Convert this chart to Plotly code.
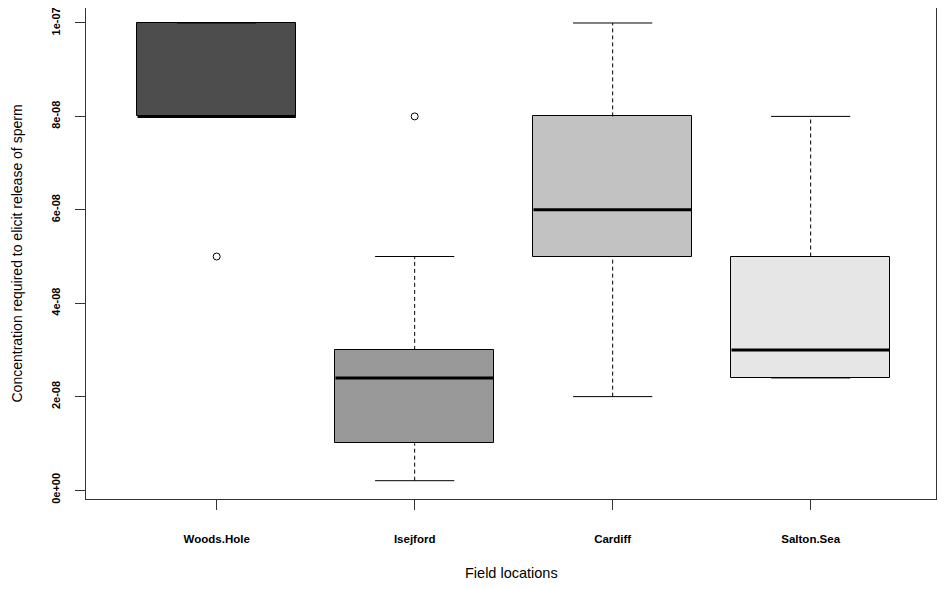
import plotly.graph_objects as go

# Box statistics (R-style boxplot)
sites = ['Woods.Hole', 'Isejford', 'Cardiff', 'Salton.Sea']
positions = [1, 2, 3, 4]
lower_whisker = [8e-08, 2e-09, 2e-08, 2.4e-08]
q1 = [8e-08, 1e-08, 5e-08, 2.4e-08]
median = [8e-08, 2.4e-08, 6e-08, 3e-08]
q3 = [1e-07, 3e-08, 8e-08, 5e-08]
upper_whisker = [1e-07, 5e-08, 1e-07, 8e-08]
outlier_pos = [1, 2]
outlier_val = [5e-08, 8e-08]
fills = ['#4d4d4d', '#999999', '#c2c2c2', '#e6e6e6']

y_tickvals = [0, 2e-08, 4e-08, 6e-08, 8e-08, 1e-07]
y_ticktext = ['0e+00', '2e-08', '4e-08', '6e-08', '8e-08', '1e-07']

BOX_W = 0.8
CAP_W = 0.4

fig = go.Figure()

# Dashed whiskers
wx, wy = [], []
for p, lo, a, b, hi in zip(positions, lower_whisker, q1, q3, upper_whisker):
    wx += [p, p, None, p, p, None]
    wy += [lo, a, None, b, hi, None]
fig.add_trace(go.Scatter(x=wx, y=wy, mode='lines',
                         line=dict(color='black', width=1, dash='4px,3px'),
                         hoverinfo='skip', showlegend=False))

# Whisker caps
cx, cy = [], []
for p, lo, hi in zip(positions, lower_whisker, upper_whisker):
    cx += [p - CAP_W / 2, p + CAP_W / 2, None, p - CAP_W / 2, p + CAP_W / 2, None]
    cy += [lo, lo, None, hi, hi, None]
fig.add_trace(go.Scatter(x=cx, y=cy, mode='lines',
                         line=dict(color='black', width=1),
                         hoverinfo='skip', showlegend=False))

# Boxes
fig.add_trace(go.Bar(
    x=positions,
    y=[b - a for a, b in zip(q1, q3)],
    base=q1,
    width=BOX_W,
    marker=dict(color=fills, line=dict(color='black', width=1)),
    showlegend=False,
))

# Medians
mx, my = [], []
for p, m in zip(positions, median):
    mx += [p - BOX_W / 2, p + BOX_W / 2, None]
    my += [m, m, None]
fig.add_trace(go.Scatter(x=mx, y=my, mode='lines',
                         line=dict(color='black', width=3),
                         hoverinfo='skip', showlegend=False))

# Outliers
fig.add_trace(go.Scatter(x=outlier_pos, y=outlier_val, mode='markers',
                         marker=dict(symbol='circle-open', size=7, color='black',
                                     line=dict(width=1)),
                         showlegend=False))

# page body adds 8px on each side, so the figure is sized to fit inside it
fig.update_layout(
    width=929, height=573,
    margin=dict(l=78, r=1, t=0, b=82),
    paper_bgcolor='white', plot_bgcolor='white',
    font=dict(family='Liberation Sans, Arial, sans-serif', color='black'),
    bargap=0,
    annotations=[
        dict(text='Field locations', xref='paper', yref='paper', x=0.5, y=0,
             yshift=-84, yanchor='bottom', showarrow=False,
             font=dict(size=14.5)),
        dict(text='Concentration required to elicit release of sperm',
             xref='paper', yref='paper', x=0, y=0.5, xshift=-70,
             xanchor='center', yanchor='middle',
             textangle=-90, showarrow=False, font=dict(size=14)),
    ],
)

fig.update_xaxes(
    range=[0.34, 4.633], automargin=False,
    tickvals=positions, ticktext=sites,
    tickfont=dict(size=11.5, weight='bold'), ticklabelstandoff=19,
    ticks='outside', ticklen=10, tickcolor='#333', tickwidth=1,
    showline=True, linecolor='#333', linewidth=1, mirror=True,
    showgrid=False, zeroline=False,
)
fig.update_yaxes(
    range=[-1.92e-09, 1.0321e-07], automargin=False,
    tickvals=y_tickvals, ticktext=y_ticktext,
    tickangle=-90, tickfont=dict(size=11, weight='bold'), ticklabelstandoff=11,
    ticks='outside', ticklen=10, tickcolor='#333', tickwidth=1,
    showline=True, linecolor='#333', linewidth=1, mirror=True,
    showgrid=False, zeroline=False, ticklabeloverflow='allow',
)

fig.write_html('out.html')
